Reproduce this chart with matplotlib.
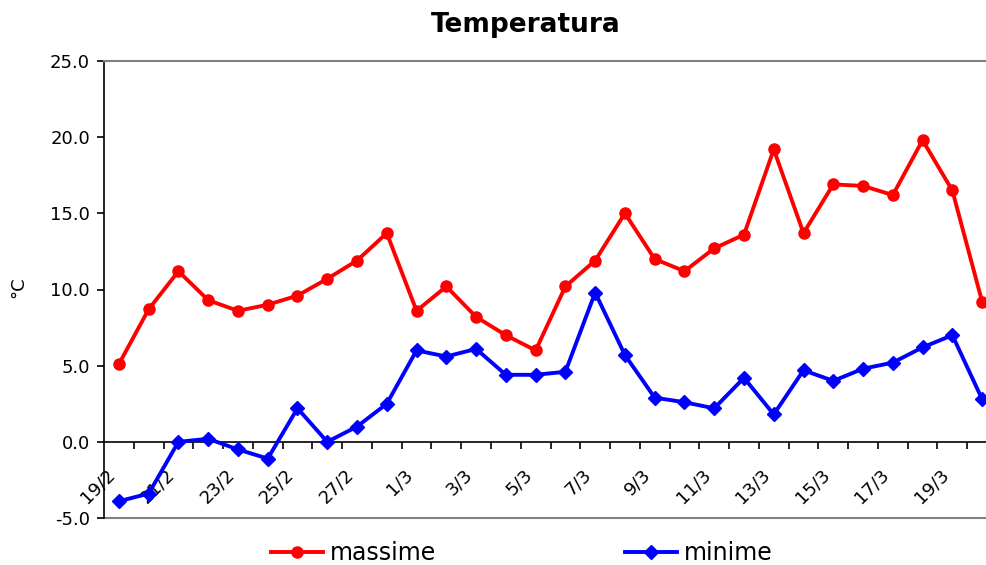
import matplotlib
matplotlib.use("Agg")
import matplotlib.pyplot as plt
from matplotlib.ticker import FixedLocator, FormatStrFormatter

dates = ["19/2", "20/2", "21/2", "22/2", "23/2", "24/2", "25/2", "26/2", "27/2", "28/2",
         "1/3", "2/3", "3/3", "4/3", "5/3", "6/3", "7/3", "8/3", "9/3", "10/3",
         "11/3", "12/3", "13/3", "14/3", "15/3", "16/3", "17/3", "18/3", "19/3", "20/3"]
massime = [5.1, 8.7, 11.2, 9.3, 8.6, 9.0, 9.6, 10.7, 11.9, 13.7,
           8.6, 10.2, 8.2, 7.0, 6.0, 10.2, 11.9, 15.0, 12.0, 11.2,
           12.7, 13.6, 19.2, 13.7, 16.9, 16.8, 16.2, 19.8, 16.5, 9.2]
minime = [-3.9, -3.4, 0.0, 0.2, -0.5, -1.1, 2.2, 0.0, 1.0, 2.5,
          6.0, 5.6, 6.1, 4.4, 4.4, 4.6, 9.8, 5.7, 2.9, 2.6,
          2.2, 4.2, 1.8, 4.7, 4.0, 4.8, 5.2, 6.2, 7.0, 2.8]
y_ticks = [-5, 0, 5, 10, 15, 20, 25]

W, H = 986, 565
fig = plt.figure(figsize=(W / 100, H / 100), dpi=100)
ax = fig.add_axes([104 / W, 47 / H, 893 / W, 457 / H])

x = list(range(len(dates)))
l1, = ax.plot(x, massime, color="#FF0000", lw=2.8, marker="o", ms=8,
              clip_on=False, zorder=3, label="massime")
l2, = ax.plot(x, minime, color="#0000FF", lw=2.8, marker="D", ms=7,
              clip_on=False, zorder=3, label="minime")

ax.set_xlim(-0.5, len(dates) - 0.5)
ax.set_ylim(-5, 25)

# spines
ax.spines["bottom"].set_position(("data", 0))
ax.spines["bottom"].set_color("black")
ax.spines["left"].set_color("black")
ax.spines["top"].set_color("#808080")
ax.spines["right"].set_color("#808080")
ax.axhline(-5, color="#808080", lw=1.5, clip_on=False, zorder=1)
for s in ["top", "right", "bottom", "left"]:
    ax.spines[s].set_linewidth(1.2)
ax.spines["top"].set_linewidth(1.5)

# x ticks
ax.xaxis.set_major_locator(FixedLocator(x[::2]))
ax.set_xticklabels(dates[::2], rotation=45, ha="right", va="top",
                   rotation_mode="default", fontsize=13)
ax.xaxis.set_minor_locator(FixedLocator([i + 0.5 for i in range(len(dates))]))
ax.tick_params(axis="x", which="major", length=0, pad=17)
ax.tick_params(axis="x", which="minor", length=5, width=1.2, direction="out")

# y ticks
ax.yaxis.set_major_locator(FixedLocator(y_ticks))
ax.yaxis.set_major_formatter(FormatStrFormatter("%.1f"))
ax.tick_params(axis="y", length=5, width=1.2, direction="out", labelsize=13, pad=5)

fig.text(526 / W, 1 - 25 / H, "Temperatura", ha="center", va="center",
         fontsize=19, fontweight="bold")
fig.text(18 / W, 1 - 287 / H, "°C", ha="center", va="center", rotation=90,
         fontsize=13)

fig.legend(handles=[l1, l2], loc="center", bbox_to_anchor=(522 / W, 1 - 553 / H),
           ncol=2, frameon=False, fontsize=17, handlelength=2.2,
           handletextpad=0.3, columnspacing=8.0, borderaxespad=0)

fig.savefig("out.png", dpi=100)
